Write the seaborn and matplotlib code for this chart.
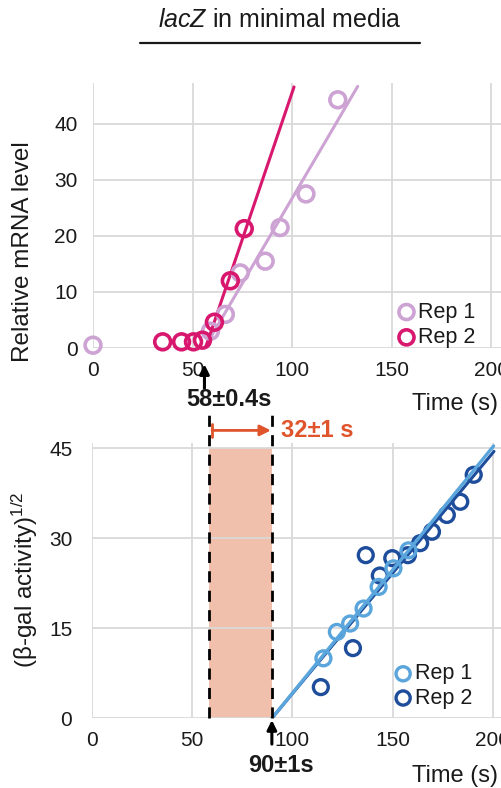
import numpy as np
import pandas as pd
import seaborn as sns
import matplotlib
matplotlib.use("Agg")
import matplotlib.pyplot as plt
from matplotlib.lines import Line2D

# ---------------- data ----------------
# top panel: lacZ mRNA
mrna_rep1_t = [0, 59, 66.5, 74, 86.5, 94, 107, 123]
mrna_rep1_y = [0.5, 3.0, 6.0, 13.4, 15.5, 21.5, 27.5, 44.3]
mrna_rep2_t = [35, 44.5, 50.5, 55, 61, 69, 76]
mrna_rep2_y = [1.1, 1.1, 1.1, 1.4, 4.6, 12.0, 21.3]
mrna_fit1_t = [56, 133]
mrna_fit1_y = [0, 46.7]
mrna_fit2_t = [56.5, 101]
mrna_fit2_y = [0, 46.6]

# bottom panel: beta-gal activity
bgal_rep1_t = [115.5, 122.2, 128.8, 135.5, 143, 150.4, 157.9]
bgal_rep1_y = [10.0, 14.4, 15.8, 18.3, 21.9, 25.0, 28.0]
bgal_rep2_t = [114.2, 130.2, 136.6, 143.6, 149.8, 157.6, 163.7, 169.6, 177, 183.7, 190.4]
bgal_rep2_y = [5.2, 11.7, 27.2, 23.8, 26.7, 27.2, 29.2, 31.1, 33.9, 36.1, 40.6]
bgal_fit1_t = [89.8, 200.3]
bgal_fit1_y = [0, 45.4]
bgal_fit2_t = [89.8, 200.5]
bgal_fit2_y = [0, 44.5]

onset_mrna = 56
lag_start = 58.5
onset_bgal = 89.8

labels = ["Rep 1", "Rep 2"]
c_m1, c_m2 = "#cda3d4", "#d8186e"
c_b1, c_b2 = "#5aa5dc", "#1e4d9b"
c_shade = "#f1c0ad"
c_orange = "#e0542c"
grid_c = "#d9d9d9"
txt_c = "#1a1a1a"

# ---------------- style ----------------
sns.set_theme(style="white")
plt.rcParams["font.family"] = ["Liberation Sans", "DejaVu Sans"]
plt.rcParams["mathtext.fontset"] = "custom"
plt.rcParams["mathtext.rm"] = "Liberation Sans"
plt.rcParams["mathtext.it"] = "Liberation Sans:italic"

W, H = 501, 788
fig = plt.figure(figsize=(W / 100, H / 100), dpi=100)

def fx(px):
    return px / W

def fy(py):
    return 1 - py / H

ax1 = fig.add_axes([fx(93), fy(348), fx(501 - 93), (348 - 83) / H])
ax2 = fig.add_axes([fx(91.7), fy(718.3), fx(501 - 91.7), (718.3 - 443) / H])

for ax in (ax1, ax2):
    for s in ax.spines.values():
        s.set_visible(False)
    ax.grid(True, color=grid_c, linewidth=1.3)
    ax.set_axisbelow(True)
    ax.tick_params(length=0, labelsize=15, colors=txt_c)

# ---------------- top panel ----------------
df1 = pd.DataFrame({"t": mrna_rep1_t, "y": mrna_rep1_y})
df2 = pd.DataFrame({"t": mrna_rep2_t, "y": mrna_rep2_y})
sns.scatterplot(data=df1, x="t", y="y", ax=ax1, marker="o", s=130, color=c_m1,
                facecolor="none", edgecolor=c_m1, linewidth=2.6, label=labels[0],
                clip_on=False, zorder=3)
sns.lineplot(x=mrna_fit1_t, y=mrna_fit1_y, ax=ax1, color=c_m1, linewidth=2.2, zorder=2)
sns.scatterplot(data=df2, x="t", y="y", ax=ax1, marker="o", s=130, color=c_m2,
                facecolor="none", edgecolor=c_m2, linewidth=2.6, label=labels[1],
                clip_on=False, zorder=3)
sns.lineplot(x=mrna_fit2_t, y=mrna_fit2_y, ax=ax1, color=c_m2, linewidth=2.2, zorder=2)

ax1.set_xlim(0, 205)
ax1.set_ylim(0, 47.3)
ax1.set_xticks([0, 50, 100, 150, 200])
ax1.set_yticks([0, 10, 20, 30, 40])
ax1.tick_params(axis="y", pad=11)
ax1.tick_params(axis="x", pad=9)
ax1.set_xlabel("")
ax1.set_ylabel("")
leg1 = ax1.legend(loc="lower right", bbox_to_anchor=(0.938, 0.0), frameon=False,
                  fontsize=15.5, handlelength=1.0, handletextpad=0.05, labelspacing=0.2,
                  borderaxespad=0, borderpad=0, markerscale=0.95)
for t in leg1.get_texts():
    t.set_color(txt_c)

ax1.annotate("", xy=(onset_mrna, -2.9), xytext=(onset_mrna, -7.2),
             xycoords="data", annotation_clip=False,
             arrowprops=dict(arrowstyle="-|>", color="black", lw=2.2,
                             mutation_scale=14, shrinkA=0, shrinkB=0))

# ---------------- bottom panel ----------------
ax2.axvspan(lag_start, onset_bgal, ymin=0, ymax=45 / 45.9, color=c_shade, lw=0, zorder=0.5)
for xv in (lag_start, onset_bgal):
    ax2.plot([xv, xv], [0, 50.6], color="black", lw=2.0, ls=(0, (4, 3)),
             clip_on=False, zorder=4)

d1 = pd.DataFrame({"t": bgal_rep1_t, "y": bgal_rep1_y})
d2 = pd.DataFrame({"t": bgal_rep2_t, "y": bgal_rep2_y})
sns.scatterplot(data=d1, x="t", y="y", ax=ax2, marker="o", s=115, color=c_b1,
                facecolor="none", edgecolor=c_b1, linewidth=2.4, label=labels[0],
                zorder=4)
sns.scatterplot(data=d2, x="t", y="y", ax=ax2, marker="o", s=115, color=c_b2,
                facecolor="none", edgecolor=c_b2, linewidth=2.4, label=labels[1],
                zorder=3)
sns.lineplot(x=bgal_fit2_t, y=bgal_fit2_y, ax=ax2, color=c_b2, linewidth=2.2, zorder=3.5)
sns.lineplot(x=bgal_fit1_t, y=bgal_fit1_y, ax=ax2, color=c_b1, linewidth=2.4, zorder=3.6)

ax2.set_xlim(0, 204)
ax2.set_ylim(0, 45.9)
ax2.set_xticks([0, 50, 100, 150, 200])
ax2.set_yticks([0, 15, 30, 45])
ax2.tick_params(axis="y", pad=14)
ax2.tick_params(axis="x", pad=9)
ax2.set_xlabel("")
ax2.set_ylabel("")
leg2 = ax2.legend(loc="lower right", bbox_to_anchor=(0.93, 0.035), frameon=False,
                  fontsize=15.5, handlelength=1.0, handletextpad=0.05, labelspacing=0.15,
                  borderaxespad=0, borderpad=0, markerscale=0.95)
for t in leg2.get_texts():
    t.set_color(txt_c)

# orange lag arrow
ax2.annotate("", xy=(onset_bgal - 0.5, 48.0), xytext=(lag_start + 1.5, 48.0),
             xycoords="data", annotation_clip=False,
             arrowprops=dict(arrowstyle="-|>", color=c_orange, lw=2.0,
                             mutation_scale=16, shrinkA=0, shrinkB=0))
ax2.plot([lag_start + 1.5, lag_start + 1.5], [46.9, 49.1], color=c_orange, lw=2.0,
         clip_on=False)
ax2.annotate("", xy=(onset_bgal, -0.3), xytext=(onset_bgal, -4.3),
             xycoords="data", annotation_clip=False,
             arrowprops=dict(arrowstyle="-|>", color="black", lw=2.2,
                             mutation_scale=14, shrinkA=0, shrinkB=0))

# ---------------- texts ----------------
fig.text(fx(280), fy(20), r"$\mathit{lacZ}$ in minimal media", ha="center", va="center",
         fontsize=18, color=txt_c)
fig.add_artist(Line2D([fx(140), fx(420)], [fy(43), fy(43)], color=txt_c, lw=1.6))

fig.text(fx(23), fy(252), "Relative mRNA level", rotation=90, ha="center", va="center",
         fontsize=17.5, color=txt_c)
fig.text(fx(25), fy(580), r"(β-gal activity)$^{\mathregular{1/2}}$", rotation=90,
         ha="center", va="center", fontsize=17.5, color=txt_c)

fig.text(fx(455), fy(404), "Time (s)", ha="center", va="center", fontsize=17, color=txt_c)
fig.text(fx(455), fy(776), "Time (s)", ha="center", va="center", fontsize=17, color=txt_c)

fig.text(fx(229), fy(399), "58±0.4s", ha="center", va="center", fontsize=17,
         fontweight="bold", color=txt_c)
fig.text(fx(281), fy(431), "32±1 s", ha="left", va="center", fontsize=17,
         fontweight="bold", color=c_orange)
fig.text(fx(281), fy(765), "90±1s", ha="center", va="center", fontsize=17,
         fontweight="bold", color=txt_c)

fig.savefig("out.png", dpi=100)
